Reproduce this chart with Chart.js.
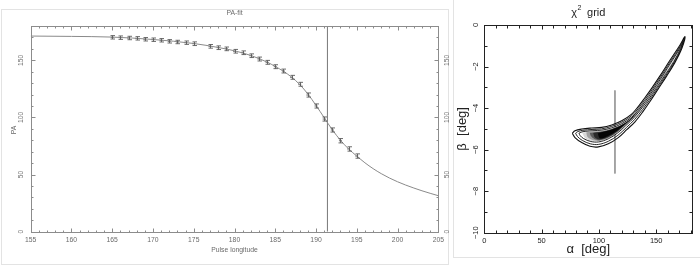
<!DOCTYPE html>
<html>
<head>
<meta charset="utf-8">
<script src="https://cdn.jsdelivr.net/npm/chart.js@4.4.0/dist/chart.umd.min.js"></script>
<style>
  body { margin: 0; background: #fff; width: 700px; height: 266px; overflow: hidden; position: relative; }
  canvas { position: absolute; top: 0; }
  #fit { left: 0; }
  #grid { left: 455px; }
  .frame { position: absolute; }
</style>
</head>
<body>
<div class="frame" style="left:1px;top:9px;width:446px;height:254px;border:1px solid #e3e3e3"></div>
<div class="frame" style="left:453px;top:0;width:247px;height:257px;border-left:1px solid #e3e3e3;border-bottom:1px solid #e3e3e3"></div>
<canvas id="fit" width="452" height="266"></canvas>
<canvas id="grid" width="245" height="266"></canvas>
<script>
// ---- PA-fit panel ----
const lonTicks = [155, 160, 165, 170, 175, 180, 185, 190, 195, 200, 205];
const paTicks = [0, 50, 100, 150];

// measured position angles with error bars
const fitLon = [165, 166, 167, 168, 169, 170, 171, 172, 173, 174, 175,
  177, 178, 179, 180, 181, 182, 183, 184, 185, 186, 187, 188, 189, 190,
  191, 192, 193, 194, 195];
const fitPA = [170.1, 169.8, 169.5, 169.2, 168.4, 168.0, 167.5, 166.6, 166.0, 165.4, 164.5,
  162.2, 161.0, 160.0, 157.9, 156.6, 154.0, 151.1, 148.2, 144.4, 140.6, 135.1, 129.0, 119.6, 110.0,
  98.6, 89.0, 79.6, 72.4, 66.2];
const fitErr = [1.5, 1.5, 1.5, 1.5, 1.5, 1.5, 1.5, 1.5, 1.5, 1.5, 1.6,
  1.6, 1.6, 1.6, 1.6, 1.6, 1.6, 1.7, 1.7, 1.7, 1.7, 1.7, 1.7, 1.8, 1.8,
  1.8, 1.8, 1.9, 1.9, 1.9];

// fitted RVM curve
const curveLon = [155, 160, 165, 170, 175, 178, 180, 182, 184, 185, 186, 187, 188, 189, 190,
  191, 192, 193, 194, 195, 196, 197, 198, 199, 200, 201, 202, 203, 204, 205];
const curvePA = [171.2, 170.9, 170.3, 168.2, 164.7, 161.2, 158.3, 154.2, 148.4, 144.6, 140.4, 135.3, 128.8, 120.5, 110.5,
  99.8, 89.2, 80.0, 72.4, 66.2, 60.3, 55.2, 50.8, 47.0, 43.7, 40.8, 38.2, 35.8, 33.6, 31.5];

const markLon = 191.4;

// ---- chi^2 grid panel ----
const alphaTicks = [0, 50, 100, 150];
const betaTicks = [0, -2, -4, -6, -8, -10];

const contourOuter = [[76.8,-5.21],[79.1,-5.09],[85,-5.01],[93.7,-4.96],[102.4,-4.93],[111.2,-4.81],[119.9,-4.61],[128.6,-4.29],[134,-3.95],[139.5,-3.55],[146,-3.05],[153.3,-2.45],[162,-1.7],[170.8,-0.96],[175.1,-0.56],
  [172.4,-1.12],[166.4,-1.8],[159.2,-2.45],[151.5,-3.1],[144.6,-3.68],[138.7,-4.15],[131.5,-4.66],[124.3,-5.04],[116.9,-5.42],[108.2,-5.72],[99.5,-5.87],[92.2,-5.84],[85,-5.66],[79.1,-5.42],[76.8,-5.21]];
const contourMid = [[79.7,-5.21],[81.6,-5.13],[86,-5.07],[94,-5.03],[102.4,-5.0],[111.2,-4.88],[119.9,-4.68],[128.6,-4.37],[134.2,-4.03],[139.8,-3.63],[146.4,-3.12],[153.8,-2.5],[162.6,-1.74],[171,-1.02],[174.3,-0.66],
  [171.9,-1.12],[165.9,-1.78],[158.6,-2.42],[150.9,-3.06],[144,-3.62],[138.1,-4.07],[131,-4.56],[123.9,-4.94],[116.6,-5.31],[108.2,-5.6],[99.5,-5.75],[92.5,-5.72],[85.6,-5.56],[81.3,-5.37],[79.7,-5.21]];
const contourInner = [[82.6,-5.21],[84.4,-5.16],[88,-5.12],[94.8,-5.09],[102.6,-5.06],[111.3,-4.95],[120,-4.75],[128.7,-4.44],[134.4,-4.1],[140.1,-3.7],[146.8,-3.18],[154.3,-2.55],[163.1,-1.78],[171.2,-1.07],[173.6,-0.77],
  [171.4,-1.12],[165.4,-1.76],[158,-2.39],[150.3,-3.02],[143.4,-3.57],[137.6,-3.99],[130.5,-4.47],[123.5,-4.84],[116.3,-5.2],[108.2,-5.48],[99.8,-5.63],[93,-5.61],[86.7,-5.47],[83.7,-5.33],[82.6,-5.21]];

// grey levels of the chi^2 map, from faint to deepest
const shade1 = [[85.5,-5.2],[90,-5.14],[95,-5.11],[102.6,-5.08],[111.3,-4.97],[120,-4.77],[128.7,-4.46],[134.4,-4.12],[140.1,-3.72],[146.8,-3.2],[154.3,-2.57],[163,-1.8],[170.8,-1.1],
  [165.3,-1.75],[157.9,-2.38],[150.2,-3.0],[143.3,-3.55],[137.5,-3.97],[130.4,-4.45],[123.4,-4.82],[116.2,-5.18],[108.2,-5.46],[100,-5.6],[93,-5.58],[88,-5.44],[85.5,-5.2]];
const shade2 = [[89,-5.17],[95,-5.13],[102.6,-5.1],[111.3,-4.99],[120,-4.79],[128.7,-4.48],[134.4,-4.14],[140.1,-3.74],[146.8,-3.22],[154.3,-2.6],[160,-2.1],
  [158,-2.35],[150.2,-2.98],[143.3,-3.53],[137.5,-3.95],[130.4,-4.43],[123.4,-4.8],[116.2,-5.16],[108.2,-5.44],[100,-5.58],[94,-5.53],[90,-5.38],[89,-5.17]];
const shade3 = [[92,-5.19],[98,-5.15],[104,-5.11],[111.3,-5.01],[120,-4.81],[128.7,-4.5],[134.4,-4.16],[140.1,-3.76],[146,-3.3],[150,-2.95],
  [148,-3.13],[143.3,-3.51],[137.5,-3.93],[130.4,-4.41],[123.4,-4.78],[116.2,-5.14],[108.2,-5.42],[100.5,-5.55],[96,-5.49],[93,-5.35],[92,-5.19]];
const shade4 = [[95,-5.2],[100,-5.15],[106,-5.11],[112,-5.01],[120,-4.82],[128,-4.53],[134,-4.18],[139,-3.82],
  [137.5,-3.94],[130.4,-4.42],[123.4,-4.77],[116.2,-5.11],[108.2,-5.39],[100.5,-5.51],[96.5,-5.42],[95,-5.2]];
const shade5 = [[99,-5.22],[104,-5.14],[111,-5.04],[118,-4.88],[125,-4.65],[131,-4.33],
  [129.5,-4.46],[123,-4.76],[116,-5.08],[108,-5.34],[101,-5.46],[99,-5.22]];

const bestAlpha = 114;
const bestBetaSpan = [-3.15, -7.15];

const toXY = arr => arr.map(([x, y]) => ({ x, y }));

// box + inward ticks, drawn on the chart's own scales
function boxTicks(opt) {
  return {
    id: 'boxTicks',
    afterDatasetsDraw(chart) {
      const { ctx, chartArea: a } = chart;
      const xs = chart.scales.x, ys = chart.scales.y;
      const L = Math.round(a.left) + 0.5, R = Math.round(a.right) + 0.5;
      const T = Math.round(a.top) + 0.5, B = Math.round(a.bottom) + 0.5;
      ctx.save();
      ctx.strokeStyle = opt.color;
      ctx.lineWidth = 1;
      ctx.strokeRect(L, T, R - L, B - T);
      ctx.beginPath();
      for (let k = 0; ; k++) {
        const v = opt.xStart + k * opt.xStep;
        if (v > xs.max + 1e-6) break;
        const px = Math.round(xs.getPixelForValue(v)) + 0.5;
        const len = opt.xMajor.includes(v) ? opt.major : opt.minor;
        ctx.moveTo(px, B); ctx.lineTo(px, B - len);
        ctx.moveTo(px, T); ctx.lineTo(px, T + len);
      }
      for (let k = 0; ; k++) {
        const v = opt.yStart + k * opt.yStep;
        if (v > ys.max + 1e-6) break;
        const py = Math.round(ys.getPixelForValue(v)) + 0.5;
        const len = opt.yMajor.includes(v) ? opt.major : opt.minor;
        ctx.moveTo(L, py); ctx.lineTo(L + len, py);
        ctx.moveTo(R, py); ctx.lineTo(R - len, py);
      }
      ctx.stroke();
      ctx.restore();
    }
  };
}

function rotText(ctx, text, x, y) {
  ctx.save();
  ctx.translate(x, y);
  ctx.rotate(-Math.PI / 2);
  ctx.textAlign = 'center';
  ctx.textBaseline = 'middle';
  ctx.fillText(text, 0, 0);
  ctx.restore();
}

const errorBars = {
  id: 'errorBars',
  afterDatasetsDraw(chart) {
    const { ctx } = chart;
    const xs = chart.scales.x, ys = chart.scales.y;
    ctx.save();
    ctx.strokeStyle = '#5a5a5a';
    ctx.lineWidth = 0.9;
    ctx.beginPath();
    fitLon.forEach((lon, i) => {
      const px = Math.round(xs.getPixelForValue(lon)) + 0.5;
      const y1 = ys.getPixelForValue(fitPA[i] - fitErr[i]);
      const y2 = ys.getPixelForValue(fitPA[i] + fitErr[i]);
      ctx.moveTo(px, y1); ctx.lineTo(px, y2);
      ctx.moveTo(px - 2, y1); ctx.lineTo(px + 2.5, y1);
      ctx.moveTo(px - 2, y2); ctx.lineTo(px + 2.5, y2);
    });
    ctx.stroke();
    ctx.restore();
  }
};

const fitLabels = {
  id: 'fitLabels',
  afterDraw(chart) {
    const { ctx, chartArea: a } = chart;
    const xs = chart.scales.x, ys = chart.scales.y;
    ctx.save();
    ctx.fillStyle = '#6a6a6a';
    ctx.font = '6.8px "Liberation Sans", Arial, sans-serif';
    ctx.textAlign = 'center';
    ctx.textBaseline = 'middle';
    lonTicks.forEach(v => ctx.fillText(String(v), xs.getPixelForValue(v), a.bottom + 8));
    paTicks.forEach(v => {
      rotText(ctx, String(v), a.left - 9.5, ys.getPixelForValue(v));
      rotText(ctx, String(v), a.right + 8.5, ys.getPixelForValue(v));
    });
    const cx = (a.left + a.right) / 2;
    ctx.fillText('PA-fit', cx, 13);
    ctx.fillText('Pulse longitude', cx, 250.5);
    rotText(ctx, 'PA', 14.3, 130);
    ctx.restore();
  }
};

new Chart(document.getElementById('fit'), {
  type: 'scatter',
  data: {
    datasets: [
      {
        data: curveLon.map((x, i) => ({ x, y: curvePA[i] })),
        showLine: true, borderColor: '#8a8a8a', borderWidth: 1,
        pointRadius: 0, cubicInterpolationMode: 'monotone'
      },
      {
        data: fitLon.map((x, i) => ({ x, y: fitPA[i] })),
        pointStyle: 'line', pointRadius: 1.5, borderColor: '#5a5a5a', borderWidth: 0.9
      },
      {
        data: [{ x: markLon, y: 0 }, { x: markLon, y: 180 }],
        showLine: true, borderColor: '#777', borderWidth: 1, pointRadius: 0
      }
    ]
  },
  options: {
    responsive: false,
    animation: false,
    events: [],
    layout: { padding: { left: 30.7, right: 13.7, top: 26, bottom: 34.3 } },
    scales: {
      x: { type: 'linear', display: false, min: 155, max: 205 },
      y: { type: 'linear', display: false, min: 0, max: 180 }
    },
    plugins: { legend: { display: false }, tooltip: { enabled: false } }
  },
  plugins: [
    boxTicks({ color: '#8c8c8c', xStart: 155, xStep: 1, xMajor: lonTicks, yStart: 0, yStep: 10, yMajor: paTicks, major: 4, minor: 2 }),
    errorBars, fitLabels
  ]
});

// ---- chi^2 grid ----
const gridLabels = {
  id: 'gridLabels',
  afterDraw(chart) {
    const { ctx, chartArea: a } = chart;
    const xs = chart.scales.x, ys = chart.scales.y;
    ctx.save();
    ctx.fillStyle = '#222';
    ctx.font = '7.5px "Liberation Sans", Arial, sans-serif';
    ctx.textAlign = 'center';
    ctx.textBaseline = 'middle';
    alphaTicks.forEach(v => ctx.fillText(String(v), xs.getPixelForValue(v), a.bottom + 8.5));
    betaTicks.forEach(v => rotText(ctx, v === 0 ? '0' : '\u2212' + Math.abs(v), a.left - 8.6, ys.getPixelForValue(v)));

    const cx = (a.left + a.right) / 2;
    ctx.font = '13px "Liberation Sans", Arial, sans-serif';
    ctx.fillText('\u03b1  [deg]', cx, 249);
    rotText(ctx, '\u03b2  [deg]', 7.5, (a.top + a.bottom) / 2);

    // title: chi^2 grid
    ctx.textAlign = 'left';
    ctx.textBaseline = 'alphabetic';
    ctx.font = '11px "Liberation Sans", Arial, sans-serif';
    const wChi = ctx.measureText('\u03c7').width;
    const wGrid = ctx.measureText('  grid').width;
    ctx.font = '7px "Liberation Sans", Arial, sans-serif';
    const wTwo = ctx.measureText('2').width;
    let x0 = cx - (wChi + wTwo + wGrid) / 2;
    ctx.font = '11px "Liberation Sans", Arial, sans-serif';
    ctx.fillText('\u03c7', x0, 16);
    ctx.font = '7px "Liberation Sans", Arial, sans-serif';
    ctx.fillText('2', x0 + wChi + 0.5, 10);
    ctx.font = '11px "Liberation Sans", Arial, sans-serif';
    ctx.fillText('  grid', x0 + wChi + wTwo, 16);
    ctx.restore();
  }
};

const shadeSet = (pts, color, order) => ({
  data: toXY(pts), showLine: true, fill: 'shape', backgroundColor: color,
  borderWidth: 0, borderColor: color, pointRadius: 0, tension: 0.3, order
});
const contourSet = (pts, width) => ({
  data: toXY(pts), showLine: true, fill: false, borderColor: '#111',
  borderWidth: width, pointRadius: 0, tension: 0.35, order: 0
});

new Chart(document.getElementById('grid'), {
  type: 'scatter',
  data: {
    datasets: [
      {
        data: [{ x: bestAlpha, y: bestBetaSpan[0] }, { x: bestAlpha, y: bestBetaSpan[1] }],
        showLine: true, borderColor: '#9a9a9a', borderWidth: 1, pointRadius: 0, order: 9
      },
      shadeSet(shade1, '#d8d8d8', 6),
      shadeSet(shade2, '#a0a0a0', 5),
      shadeSet(shade3, '#5c5c5c', 4),
      shadeSet(shade4, '#2a2a2a', 3),
      shadeSet(shade5, '#050505', 2),
      contourSet(contourInner, 0.9),
      contourSet(contourMid, 0.9),
      contourSet(contourOuter, 1.1)
    ]
  },
  options: {
    responsive: false,
    animation: false,
    events: [],
    layout: { padding: { left: 29.3, right: 7.7, top: 25, bottom: 33.3 } },
    scales: {
      x: { type: 'linear', display: false, min: 0, max: 181.5 },
      y: { type: 'linear', display: false, min: -10, max: 0 }
    },
    plugins: { legend: { display: false }, tooltip: { enabled: false } }
  },
  plugins: [
    boxTicks({ color: '#222', xStart: 0, xStep: 10, xMajor: alphaTicks, yStart: -10, yStep: 1, yMajor: betaTicks, major: 4, minor: 3 }),
    gridLabels
  ]
});
</script>
</body>
</html>
